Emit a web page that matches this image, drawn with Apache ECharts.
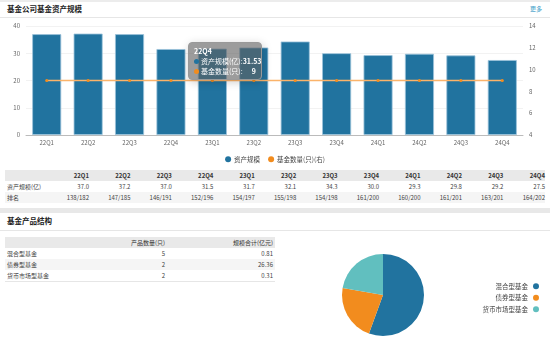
<!DOCTYPE html>
<html><head><meta charset="utf-8">
<script src="https://cdn.jsdelivr.net/npm/echarts@6/dist/echarts.min.js"></script>
<style>
html,body{margin:0;padding:0;width:550px;height:341px;background:#fff;overflow:hidden;font-family:"Noto Sans CJK SC","Noto Sans",sans-serif;}
#chart{position:absolute;left:0;top:0;width:550px;height:341px;}
.abs{position:absolute;}
.title{font-size:7.5px;font-weight:bold;color:#222;}
.hr{position:absolute;height:1px;background:#e6e6e6;}
table{border-collapse:collapse;font-size:6px;color:#444;}
td,th{padding:0;height:11px;line-height:11px;white-space:nowrap;}
th{font-weight:bold;color:#333;}
</style></head>
<body>
<div class="hr" style="left:0;top:0;width:550px;height:2px;background:#ececec"></div>
<div class="abs title" style="left:7px;top:3px;">基金公司基金资产规模</div>
<div class="abs" style="left:530px;top:4px;font-size:6px;color:#3a9cc8;">更多</div>
<div class="hr" style="left:0;top:17px;width:550px;"></div>
<div class="abs" id="t1" style="left:5px;top:170px;width:543px;"></div>
<div class="hr" style="left:0;top:208px;width:550px;height:5px;background:#e8e8e8"></div>
<div class="abs title" style="left:7px;top:215px;">基金产品结构</div>
<div class="hr" style="left:0;top:230px;width:550px;"></div>
<div class="abs" id="t2" style="left:5px;top:237px;width:270px;"></div>
<div id="chart"></div>
<script>
var quarters = ['22Q1','22Q2','22Q3','22Q4','23Q1','23Q2','23Q3','23Q4','24Q1','24Q2','24Q3','24Q4'];
var assets = [37.0,37.2,37.0,31.53,31.7,32.1,34.3,30.0,29.3,29.8,29.2,27.5];
var fundCounts = [9,9,9,9,9,9,9,9,9,9,9,9];
var ranks = ['138/182','147/185','146/191','152/196','154/197','155/198','154/198','161/200','160/200','161/201','163/201','164/202'];
var leftTicks = {min:0,max:40,interval:10};
var rightTicks = {min:4,max:14,interval:2};
var productTypes = ['混合型基金','债券型基金','货币市场型基金'];
var productCounts = [5,2,2];
var productScales = ['0.81','26.36','0.31'];

(function(){
  var colW = 41.45, firstW = 540 - colW*12;
  var h = '<table style="width:540px;table-layout:fixed"><colgroup><col style="width:'+firstW+'px">';
  for (var i=0;i<12;i++) h += '<col style="width:'+colW+'px">';
  h += '</colgroup><tr style="background:#e9e9e9"><th></th>';
  quarters.forEach(function(q){h+='<th style="text-align:right">'+q+'</th>';});
  h += '</tr><tr><td style="padding-left:2px">资产规模(亿)</td>';
  assets.forEach(function(v){h+='<td style="text-align:right">'+v.toFixed(1)+'</td>';});
  h += '</tr><tr style="background:#f5f5f5"><td style="padding-left:2px">排名</td>';
  ranks.forEach(function(v){h+='<td style="text-align:right">'+v+'</td>';});
  h += '</tr></table>';
  document.getElementById('t1').innerHTML = h;
  var h2 = '<table style="width:270px;table-layout:fixed"><colgroup><col style="width:100px"><col style="width:60px"><col style="width:110px"></colgroup>';
  h2 += '<tr style="background:#e9e9e9"><th></th><th style="text-align:right;font-weight:normal">产品数量(只)</th><th style="text-align:right;font-weight:normal;padding-right:2px">规模合计(亿元)</th></tr>';
  productTypes.forEach(function(t,i){
    h2 += '<tr style="background:'+(i==1?'#f5f5f5':'#fff')+'"><td style="padding-left:2px">'+t+'</td><td style="text-align:right">'+productCounts[i]+'</td><td style="text-align:right;padding-right:2px">'+productScales[i]+'</td></tr>';
  });
  h2 += '</table><div style="height:1px;background:#e6e6e6"></div>';
  document.getElementById('t2').innerHTML = h2;
})();

var blue = '#21739f', orange = '#f28c1e', teal = '#61bfbf';
var chart = echarts.init(document.getElementById('chart'), null, {renderer:'canvas'});
var font = '"Noto Sans CJK SC","Noto Sans",sans-serif';
chart.setOption({
  animation:false,
  textStyle:{fontFamily:font},
  tooltip:{
    trigger:'axis', alwaysShowContent:true, position:[188,42],
    axisPointer:{type:'none'},
    backgroundColor:'rgba(95,95,95,0.62)', borderColor:'#999', borderWidth:1, padding:[3,5],
    textStyle:{color:'#fff',fontSize:7,fontFamily:font},
    formatter:function(ps){
      var s='<div style="font-size:7px;line-height:10px;width:62px"><div style="font-weight:bold">'+ps[0].name+'</div>';
      var names=['资产规模(亿)','基金数量(只)'];
      ps.forEach(function(p,i){
        s+='<div style="display:flex;justify-content:space-between"><span><span style="display:inline-block;width:5px;height:5px;border-radius:3px;background:'+p.color+';margin-right:2px"></span>'+names[p.seriesIndex]+':</span><span style="font-weight:bold">'+p.value+'</span></div>';
      });
      return s+'</div>';
    }
  },
  legend:[{
    data:['资产规模','基金数量(只)(右)'], left:'center', top:151, itemWidth:6, itemHeight:6, itemGap:8, icon:'circle',
    itemStyle:{borderWidth:0},
    textStyle:{fontSize:6.5,color:'#444',padding:[0,0,0,-2]}
  },{
    data:productTypes, orient:'vertical', right:6, top:278, itemWidth:6, itemHeight:6, itemGap:5, icon:'circle', align:'right',
    itemStyle:{borderWidth:0},
    textStyle:{fontSize:6.5,color:'#444'}
  }],
  grid:{left:26,right:27,top:26,bottom:206},
  xAxis:{type:'category',data:quarters,axisTick:{show:false},
    axisLine:{lineStyle:{color:'#bbb'}},axisLabel:{fontSize:6,color:'#666',margin:5}},
  yAxis:[{type:'value',min:leftTicks.min,max:leftTicks.max,interval:leftTicks.interval,
    axisLabel:{fontSize:6,color:'#666',margin:6},splitLine:{lineStyle:{color:'#f2f2f2'}},axisLine:{show:false},axisTick:{show:false}},
    {type:'value',min:rightTicks.min,max:rightTicks.max,interval:rightTicks.interval,
    axisLabel:{fontSize:6,color:'#666',margin:6},splitLine:{show:false},axisLine:{show:false},axisTick:{show:false}}],
  series:[
    {name:'资产规模',type:'bar',data:assets,barWidth:29,emphasis:{disabled:true},
      itemStyle:{color:blue,borderColor:'#9cc3da',borderWidth:0.8}},
    {name:'基金数量(只)(右)',type:'line',yAxisIndex:1,data:fundCounts,symbol:'circle',symbolSize:3,
      emphasis:{disabled:true,scale:false},
      itemStyle:{color:orange},lineStyle:{color:'#fbb36a',width:1.5}},
    {name:'产品结构',type:'pie',center:[383,295],radius:41,label:{show:false},labelLine:{show:false},
      tooltip:{show:false},emphasis:{disabled:true},
      data:productTypes.map(function(t,i){return {name:t,value:productCounts[i]};}),
      color:[blue,orange,teal]}
  ]
});
chart.dispatchAction({type:'showTip',seriesIndex:0,dataIndex:3});
</script>
</body></html>
